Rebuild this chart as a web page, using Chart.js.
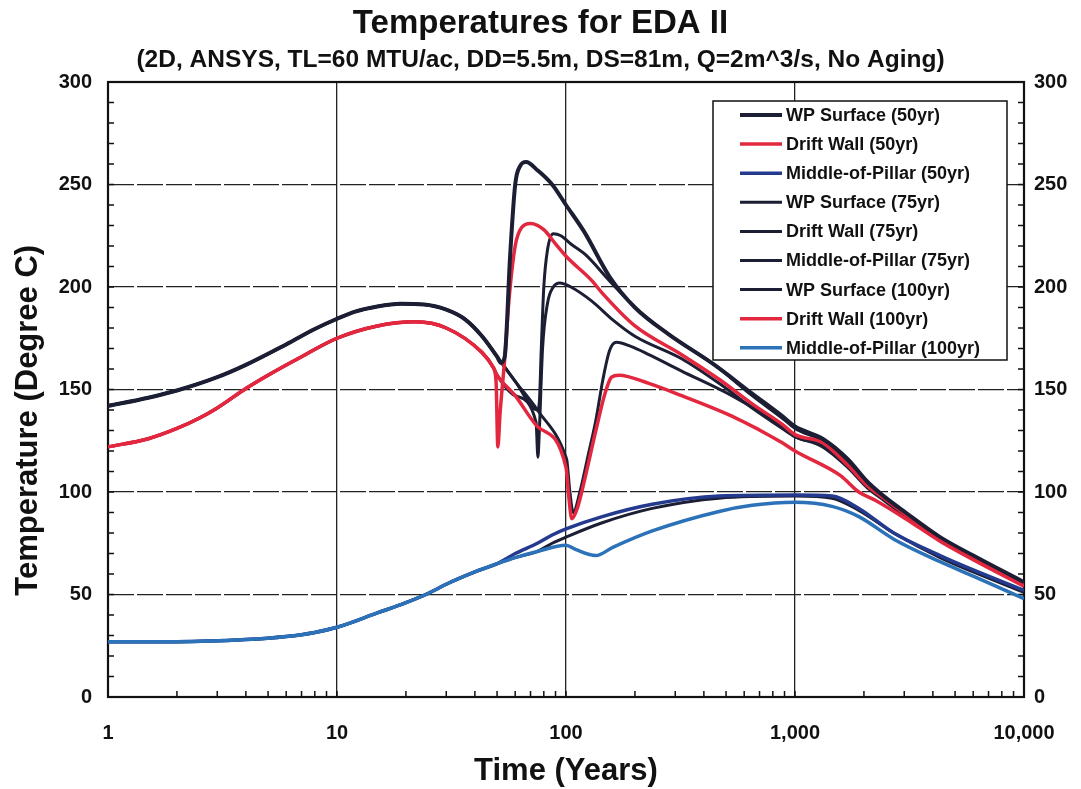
<!DOCTYPE html>
<html>
<head>
<meta charset="utf-8">
<title>Temperatures for EDA II</title>
<script src="https://cdn.jsdelivr.net/npm/chart.js@4.4.1/dist/chart.umd.min.js"></script>
<style>
  html, body { margin: 0; padding: 0; background: #fff; }
  canvas { display: block; }
</style>
</head>
<body>
<canvas id="tempChart" width="1081" height="789"></canvas>
<script>
// --- Temperature histories, [years, deg C] ---

// shared history while the drifts are still ventilated
const wpPreClosure = [[1,142],[1.5,146],[2,149.5],[3,156],[4,162],[6,172],[8,179.5],[10,184.5],[12,188],[15,190.5],[19,191.8],[24,191.5],[30,189],[36,184.5],[43,176],[50,166],[60,154],[75,140],[100,117]];
const dwPreClosure = [[1,122],[1.5,126],[2,131],[2.5,136],[3,141],[4,150.5],[5,157],[7,166],[10,175],[15,181],[22,183],[30,180],[43,168],[48,161],[50,157],[60,147],[75,132],[100,112]];
const pillarPreClosure = [[1,27],[2,27],[4,28],[6,29.5],[8,31.5],[10,34],[15,41],[20,46],[25,50.5],[30,55],[40,61],[50,65],[60,68],[75,71],[100,74]];

// after closure at 50 yr
const wpAfter50 = [[52,163],[54,166],[57,215],[60,250],[63,259],[67,261],[75,257],[87,250],[100,240],[120,227],[155,205],[200,190],[280,177],[445,162],[650,148],[880,137],[1000,132],[1320,126],[1700,116],[2070,105],[2440,98],[3040,90],[4300,78],[6000,69],[10000,56]];
const dwAfter50 = [[49.5,154],[50.4,122],[51.5,138],[54,165],[56.5,195],[60,220],[64,229],[70,231],[80,228],[90,221],[100,215],[130,203],[144,197],[200,181],[320,167],[466,155],[650,143],[880,133],[1000,128],[1320,124],[1700,113],[2070,103],[2440,97],[3040,89],[4300,77],[6000,68],[10000,55]];
const pillarAfter50 = [[60,70],[75,75],[87,79],[100,82],[144,88],[238,94],[466,98],[1000,98.5],[1450,98],[1900,92],[2700,80],[4300,69],[6000,62],[10000,52]];

// after closure at 75 yr
const wpAfter75 = [[76.5,144],[78,170],[80,200],[83,218],[88,226],[95,225],[105,221],[121,216],[155,203],[200,190],[280,177],[445,162],[650,147],[880,136],[1000,131],[1320,125],[1700,115],[2070,104],[2440,97],[3040,89],[4300,77],[6000,68],[10000,55]];
const dwAfter75 = [[74,134],[75.4,117],[76.5,130],[79,170],[83,192],[88,200],[94,202],[105,200],[130,193],[160,184],[200,176],[320,165],[466,153],[650,141],[880,131],[1000,127],[1320,122],[1700,112],[2070,102],[2440,96],[3040,88],[4300,77],[6000,68],[10000,55]];
const pillarAfter75 = [[87,75],[100,78],[144,85],[238,92],[466,97],[1000,98],[1450,97],[1900,91],[2700,80],[4300,68],[6000,61],[10000,51]];

// after closure at 100 yr
const wpAfter100 = [[101,115],[104,100],[107.5,90],[115,100],[125,118],[135,135],[145,155],[155,169],[166,173],[192,171],[230,167],[320,159],[530,147],[880,132],[1000,127],[1320,123],[1700,113],[2070,103],[2440,97],[3040,89],[4300,77],[6000,68],[10000,55]];
const dwAfter100 = [[103,97],[106,87],[112,92],[120,105],[135,130],[148,148],[158,156],[170,157],[230,153],[320,147],[530,137],[880,124],[1000,120],[1580,108],[1900,100],[2240,96],[3040,87],[4300,76],[6000,67],[10000,54]];
const pillarAfter100 = [[110,72],[135,69],[160,73],[238,81],[466,90.5],[650,93.5],[1000,95],[1450,93],[1900,88],[2700,77],[4300,66],[6000,59],[10000,48]];

const seriesLabels = [
  "WP Surface (50yr)", "Drift Wall (50yr)", "Middle-of-Pillar (50yr)",
  "WP Surface (75yr)", "Drift Wall (75yr)", "Middle-of-Pillar (75yr)",
  "WP Surface (100yr)", "Drift Wall (100yr)", "Middle-of-Pillar (100yr)"
];

const yTickStep = 10;
const yLabelStep = 50;
const decades = [1, 10, 100, 1000, 10000];

// --- Colours ---
const BLACK = "#1c1e34";
const RED = "#e2273f";
const NAVY = "#243a8e";
const BLUE = "#2b72b9";
const FONT = '"Liberation Sans", Arial, Helvetica, sans-serif';

// join the ventilated part with what happens after closure
function history(pre, lastYear, after) {
  return pre.filter(p => p[0] <= lastYear).concat(after)
    .map(([x, y]) => ({ x, y }));
}

const series = [
  { data: history(wpPreClosure, 50, wpAfter50), color: BLACK, width: 4 },
  { data: history(dwPreClosure, 48, dwAfter50), color: RED, width: 3.5 },
  { data: history(pillarPreClosure, 50, pillarAfter50), color: NAVY, width: 3.5 },
  { data: history(wpPreClosure, 75, wpAfter75), color: BLACK, width: 3 },
  { data: history(dwPreClosure, 60, dwAfter75), color: BLACK, width: 3 },
  { data: history(pillarPreClosure, 75, pillarAfter75), color: BLACK, width: 3 },
  { data: history(wpPreClosure, 100, wpAfter100), color: BLACK, width: 3 },
  { data: history(dwPreClosure, 100, dwAfter100), color: RED, width: 3.5, order: -1 },
  { data: history(pillarPreClosure, 100, pillarAfter100), color: BLUE, width: 3.5, order: -2 }
];

const isDecade = v => Math.abs(Math.log10(v) - Math.round(Math.log10(v))) < 1e-9;

// --- Frame, small inward tick marks and the temperature axis title ---
const axisFrame = {
  id: "axisFrame",
  beforeDatasetsDraw(chart) {
    const { ctx, chartArea: a, scales } = chart;
    ctx.save();
    ctx.strokeStyle = "#111";
    ctx.lineWidth = 1.5;
    ctx.beginPath();
    scales.y.ticks.forEach(t => {
      const py = scales.y.getPixelForValue(t.value);
      ctx.moveTo(a.left, py); ctx.lineTo(a.left + 6, py);
      ctx.moveTo(a.right, py); ctx.lineTo(a.right - 6, py);
    });
    scales.x.ticks.forEach(t => {
      const px = scales.x.getPixelForValue(t.value);
      ctx.moveTo(px, a.bottom); ctx.lineTo(px, a.bottom - 6);
    });
    ctx.stroke();
    ctx.lineWidth = 2.2;
    ctx.strokeRect(a.left, a.top, a.right - a.left, a.bottom - a.top);

    // y title sits a little below the middle of the axis
    ctx.translate(28, a.top + (a.bottom - a.top) * 0.55);
    ctx.rotate(-Math.PI / 2);
    ctx.font = "bold 31px " + FONT;
    ctx.fillStyle = "#111";
    ctx.textAlign = "center";
    ctx.textBaseline = "middle";
    ctx.fillText("Temperature (Degree C)", 0, 0);
    ctx.restore();
  }
};

// --- Boxed legend in the upper right of the plot ---
const legendBox = {
  id: "legendBox",
  afterDraw(chart) {
    const { ctx, chartArea: a } = chart;
    const w = 294, h = 259, rowH = 29.1;
    const left = a.right - 17 - w, top = a.top + 19;
    ctx.save();
    ctx.fillStyle = "#fff";
    ctx.fillRect(left, top, w, h);
    ctx.strokeStyle = "#111";
    ctx.lineWidth = 1.5;
    ctx.strokeRect(left, top, w, h);
    ctx.font = "bold 18px " + FONT;
    ctx.textBaseline = "middle";
    chart.data.datasets.forEach((ds, i) => {
      const y = top + 14 + i * rowH;
      ctx.strokeStyle = ds.borderColor;
      ctx.lineWidth = ds.borderWidth;
      ctx.beginPath();
      ctx.moveTo(left + 27, y);
      ctx.lineTo(left + 69, y);
      ctx.stroke();
      ctx.fillStyle = "#111";
      ctx.fillText(ds.label, left + 73, y + 1);
    });
    ctx.restore();
  }
};

const tickFont = { family: FONT, size: 20, weight: "bold" };

const chart = new Chart(document.getElementById("tempChart"), {
  type: "line",
  data: {
    datasets: series.map((s, i) => ({
      label: seriesLabels[i],
      data: s.data,
      borderColor: s.color,
      borderWidth: s.width,
      order: s.order || 0,
      pointRadius: 0,
      fill: false,
      cubicInterpolationMode: "monotone"
    }))
  },
  options: {
    responsive: false,
    animation: false,
    layout: { padding: 0 },
    plugins: {
      legend: { display: false },
      tooltip: { enabled: false },
      title: {
        display: true,
        text: "Temperatures for EDA II",
        color: "#111",
        font: { family: FONT, size: 33, weight: "bold", lineHeight: 1 },
        padding: { top: 7, bottom: 6 }
      },
      subtitle: {
        display: true,
        text: "(2D, ANSYS, TL=60 MTU/ac, DD=5.5m, DS=81m, Q=2m^3/s, No Aging)",
        color: "#111",
        font: { family: FONT, size: 24.5, weight: "bold", lineHeight: 1 },
        padding: { top: 2, bottom: 9.5 }
      }
    },
    scales: {
      x: {
        type: "logarithmic",
        position: "bottom",
        min: decades[0],
        max: decades[decades.length - 1],
        afterFit: s => { s.height = 92; },
        afterBuildTicks: scale => {
          const ticks = [];
          decades.slice(0, -1).forEach(d => {
            for (let k = 1; k < 10; k++) ticks.push({ value: d * k });
          });
          ticks.push({ value: decades[decades.length - 1] });
          scale.ticks = ticks;
        },
        ticks: {
          autoSkip: false,
          maxRotation: 0,
          padding: 24,
          color: "#111",
          font: tickFont,
          callback: v => isDecade(v) ? Number(v).toLocaleString("en-US") : ""
        },
        grid: {
          drawTicks: false,
          lineWidth: 1.3,
          color: c => (c.tick && isDecade(c.tick.value) && c.tick.value > 1 && c.tick.value < 10000) ? "#222" : "transparent"
        },
        border: { display: false },
        title: {
          display: true,
          text: "Time (Years)",
          color: "#111",
          font: { family: FONT, size: 31, weight: "bold", lineHeight: 1 },
          padding: { top: 0, bottom: 2 }
        }
      },
      y: {
        type: "linear",
        position: "left",
        min: 0,
        max: 300,
        afterFit: s => { s.width = 108; },
        ticks: {
          stepSize: yTickStep,
          autoSkip: false,
          padding: 16,
          color: "#111",
          font: tickFont,
          callback: v => v % yLabelStep === 0 ? v : ""
        },
        grid: {
          drawTicks: false,
          lineWidth: 1.3,
          color: c => (c.tick && c.tick.value % yLabelStep === 0 && c.tick.value > 0 && c.tick.value < 300) ? "#222" : "transparent"
        },
        border: { display: false, dash: [26, 3] }
      },
      yRight: {
        type: "linear",
        position: "right",
        min: 0,
        max: 300,
        afterFit: s => { s.width = 57; },
        ticks: {
          stepSize: yTickStep,
          autoSkip: false,
          padding: 10,
          color: "#111",
          font: tickFont,
          callback: v => v % yLabelStep === 0 ? v : ""
        },
        grid: { drawOnChartArea: false, drawTicks: false },
        border: { display: false }
      }
    }
  },
  plugins: [axisFrame, legendBox]
});
</script>
</body>
</html>
